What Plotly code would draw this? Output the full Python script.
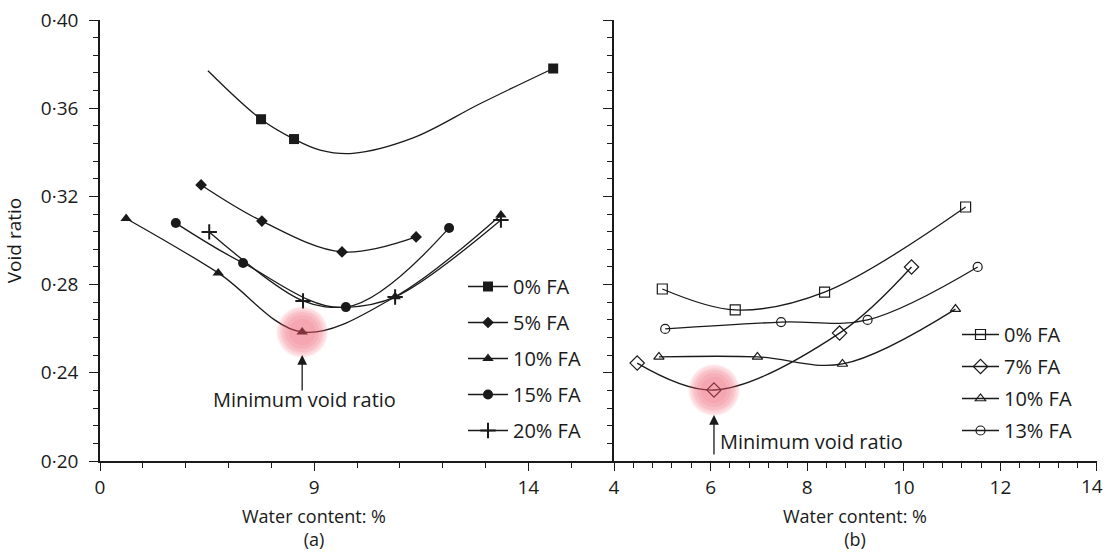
import plotly.graph_objects as go

# ---------------- data ----------------
# Panel (a): filled markers
a_names = ["0% FA", "5% FA", "10% FA", "15% FA", "20% FA"]
a0_x = [7.76, 8.53, 14.58]
a0_y = [0.355, 0.346, 0.378]
a5_x = [6.36, 7.78, 9.65, 11.38]
a5_y = [0.3252, 0.3088, 0.2948, 0.3016]
a10_x = [4.61, 6.76, 8.72, 10.89, 13.36]
a10_y = [0.3100, 0.2853, 0.2585, 0.2745, 0.3116]
a15_x = [5.77, 7.34, 9.74, 12.15]
a15_y = [0.3079, 0.2898, 0.2698, 0.3057]
a20_x = [6.55, 8.74, 10.89, 13.36]
a20_y = [0.3039, 0.2726, 0.2744, 0.3093]

# fitted curves of panel (a)
a0_fit_x = [6.52, 7.76, 8.53, 9.14, 9.9, 11.31, 12.87, 14.58]
a0_fit_y = [0.377, 0.355, 0.346, 0.341, 0.3395, 0.3465, 0.362, 0.378]
a5_fit_x = a5_x
a5_fit_y = a5_y
a10_fit_x = a10_x
a10_fit_y = a10_y
a15_fit_x = a15_x
a15_fit_y = a15_y
a20_fit_x = [6.55, 8.74, 9.75, 10.89, 13.36]
a20_fit_y = [0.3039, 0.2726, 0.2697, 0.2744, 0.3093]

# Panel (b): open markers
b_names = ["0% FA", "7% FA", "10% FA", "13% FA"]
b0_x = [5.00, 6.51, 8.36, 11.28]
b0_y = [0.2780, 0.2685, 0.2766, 0.3152]
b7_x = [4.48, 6.07, 8.67, 10.16]
b7_y = [0.2444, 0.2322, 0.2580, 0.2880]
b10_x = [4.93, 6.97, 8.73, 11.07]
b10_y = [0.2472, 0.2472, 0.2440, 0.2689]
b13_x = [5.06, 7.46, 9.25, 11.53]
b13_y = [0.2599, 0.2630, 0.2640, 0.2880]

# axis ticks
y_tick_vals = [0.20, 0.24, 0.28, 0.32, 0.36, 0.40]
y_tick_text = ["0·20", "0·24", "0·28", "0·32", "0·36", "0·40"]
a_tick_vals = [4, 9, 14]
a_tick_text = ["0", "9", "14"]
b_tick_vals = [4, 6, 8, 10, 12, 14]
b_tick_text = ["4", "6", "8", "10", "12", "14"]

# ---------------- figure ----------------
FONT = "Open Sans"
INK = "#1a1a1a"
LW = 1.3

fig = go.Figure()

a_series = [
    (a0_fit_x, a0_fit_y, a0_x, a0_y, "square", 10),
    (a5_fit_x, a5_fit_y, a5_x, a5_y, "diamond", 9),
    (a10_fit_x, a10_fit_y, a10_x, a10_y, "triangle-up", 10),
    (a15_fit_x, a15_fit_y, a15_x, a15_y, "circle", 10),
    (a20_fit_x, a20_fit_y, a20_x, a20_y, "cross-thin", 11),
]
for name, (fx, fy, mx, my, sym, sz) in zip(a_names, a_series):
    mline = dict(color=INK, width=2 if sym == "cross-thin" else 0)
    fig.add_trace(go.Scatter(x=fx, y=fy, mode="lines", xaxis="x", yaxis="y",
                             line=dict(color=INK, width=LW, shape="spline", smoothing=1.0),
                             showlegend=False, hoverinfo="skip"))
    fig.add_trace(go.Scatter(x=mx, y=my, mode="markers", xaxis="x", yaxis="y",
                             marker=dict(symbol=sym, size=sz, color=INK, line=mline),
                             showlegend=False, name=name))
    fig.add_trace(go.Scatter(x=[None], y=[None], mode="lines+markers", xaxis="x", yaxis="y",
                             name=name, legend="legend", legendgroup="a" + name,
                             line=dict(color=INK, width=LW),
                             marker=dict(symbol=sym, size=sz, color=INK, line=mline)))

b_series = [
    (b0_x, b0_y, "square-open", 10),
    (b7_x, b7_y, "diamond-open", 11),
    (b10_x, b10_y, "triangle-up-open", 9),
    (b13_x, b13_y, "circle-open", 9),
]
for name, (mx, my, sym, sz) in zip(b_names, b_series):
    fig.add_trace(go.Scatter(x=mx, y=my, mode="lines+markers", xaxis="x2", yaxis="y2",
                             line=dict(color=INK, width=LW, shape="spline", smoothing=1.0),
                             marker=dict(symbol=sym, size=sz, color=INK, line=dict(color=INK, width=1.2)),
                             showlegend=False, name=name))
    fig.add_trace(go.Scatter(x=[None], y=[None], mode="lines+markers", xaxis="x2", yaxis="y2",
                             name=name, legend="legend2", legendgroup="b" + name,
                             line=dict(color=INK, width=LW),
                             marker=dict(symbol=sym, size=sz, color=INK, line=dict(color=INK, width=1.2))))

# highlight of the minimum points (soft pink disc)
a_min_i = a10_y.index(min(a10_y))
b_min_i = b7_y.index(min(b7_y))
highlights = [("x", "y", a10_x[a_min_i], a10_y[a_min_i]),
              ("x2", "y2", b7_x[b_min_i], b7_y[b_min_i])]
shapes = []
for xr, yr, cx, cy in highlights:
    for r, op in [(26, 0.06), (25, 0.07), (24, 0.08), (22, 0.10), (20, 0.12), (17, 0.12), (13, 0.10)]:
        shapes.append(dict(type="circle", xref=xr, yref=yr, xsizemode="pixel", ysizemode="pixel",
                           xanchor=cx, yanchor=cy, x0=-r, x1=r, y0=-r, y1=r,
                           fillcolor="rgba(238,80,100,%.2f)" % op, line=dict(width=0), layer="above"))

annotations = []
# arrows
annotations.append(dict(xref="x", yref="y", x=a10_x[a_min_i], y=a10_y[a_min_i], text="",
                        showarrow=True, ax=0, ay=60, standoff=23, arrowhead=2, arrowsize=1.5,
                        arrowwidth=1.3, arrowcolor=INK))
annotations.append(dict(xref="x2", yref="y2", x=b7_x[b_min_i], y=b7_y[b_min_i], text="",
                        showarrow=True, ax=0, ay=66, standoff=25, arrowhead=2, arrowsize=1.5,
                        arrowwidth=1.3, arrowcolor=INK))
annotations.append(dict(xref="x", yref="y", x=a10_x[a_min_i], y=a10_y[a_min_i],
                        text="Minimum void ratio", showarrow=False, xanchor="center",
                        yanchor="middle", xshift=2, yshift=-67,
                        font=dict(family=FONT, size=20, color=INK)))
annotations.append(dict(xref="x2", yref="y2", x=b7_x[b_min_i], y=b7_y[b_min_i],
                        text="Minimum void ratio", showarrow=False, xanchor="left",
                        yanchor="middle", xshift=4, yshift=-51,
                        font=dict(family=FONT, size=20, color=INK)))
# x titles with panel letters
for xr, letter in [("x", "(a)"), ("x2", "(b)")]:
    annotations.append(dict(xref=xr, yref="paper", x=9, y=-92 / 441,
                            text="Water content: %<br>" + letter,
                            showarrow=False, xanchor="center", yanchor="bottom", align="center",
                            font=dict(family=FONT, size=18, color=INK)))
# last tick label of panel (b) sits flush with the right edge of the figure
b_axis_labels = list(b_tick_text)
b_last_label = b_axis_labels[-1]
b_axis_labels[-1] = ""
annotations.append(dict(xref="x2", yref="paper", x=b_tick_vals[-1], y=-25 / 441,
                        text=b_last_label, showarrow=False, xanchor="right", yanchor="middle",
                        xshift=8, font=dict(family=FONT, size=19, color=INK)))

split = 514 / 997
axis_common = dict(showline=True, linecolor=INK, linewidth=1.5, showgrid=False, zeroline=False,
                   ticks="outside", tickwidth=1.3, tickcolor=INK,
                   automargin=False, tickfont=dict(family=FONT, size=19, color=INK))
minor_common = dict(tickmode="linear", ticks="outside", ticklen=5, tickcolor=INK, tickwidth=1.2)

fig.update_layout(
    width=1106, height=553,
    margin=dict(l=100, r=9, t=20, b=92, autoexpand=False),
    paper_bgcolor="white", plot_bgcolor="white",
    font=dict(family=FONT, size=19, color=INK),
    xaxis=dict(domain=[0, split], range=[4, 16], tickmode="array", tickvals=a_tick_vals,
               ticktext=a_tick_text, anchor="y", ticklen=8,
               minor=dict(tick0=4, dtick=1, **minor_common),
               **axis_common),
    xaxis2=dict(domain=[split, 1], range=[4, 14.0005], tickmode="array", tickvals=b_tick_vals,
                ticktext=b_axis_labels, anchor="y2", ticklen=8,
                minor=dict(tick0=4, dtick=0.4, **minor_common),
                **axis_common),
    yaxis=dict(range=[0.20, 0.40], tickmode="array", tickvals=y_tick_vals, ticktext=y_tick_text,
               anchor="x", ticklen=9, ticklabelstandoff=7,
               title=dict(text="Void ratio", standoff=14,
                          font=dict(family=FONT, size=19, color=INK)),
               minor=dict(tick0=0.2, dtick=0.008, **minor_common),
               **axis_common),
    yaxis2=dict(range=[0.20, 0.40], matches="y", tickmode="array", tickvals=y_tick_vals,
                showticklabels=False, anchor="x2", ticklen=9,
                minor=dict(tick0=0.2, dtick=0.008, **minor_common),
                **{k: v for k, v in axis_common.items() if k != "tickfont"}),
    legend=dict(x=(463 - 100) / 997, y=(461 - 267) / 441, xanchor="left", yanchor="top",
                bgcolor="rgba(0,0,0,0)", tracegroupgap=7, itemwidth=40,
                font=dict(family=FONT, size=20, color=INK)),
    legend2=dict(x=(957 - 100) / 997, y=(461 - 315) / 441, xanchor="left", yanchor="top",
                 bgcolor="rgba(0,0,0,0)", tracegroupgap=3, itemwidth=37,
                 font=dict(family=FONT, size=20, color=INK)),
    shapes=shapes,
    annotations=annotations,
)

fig.write_html("out.html")
